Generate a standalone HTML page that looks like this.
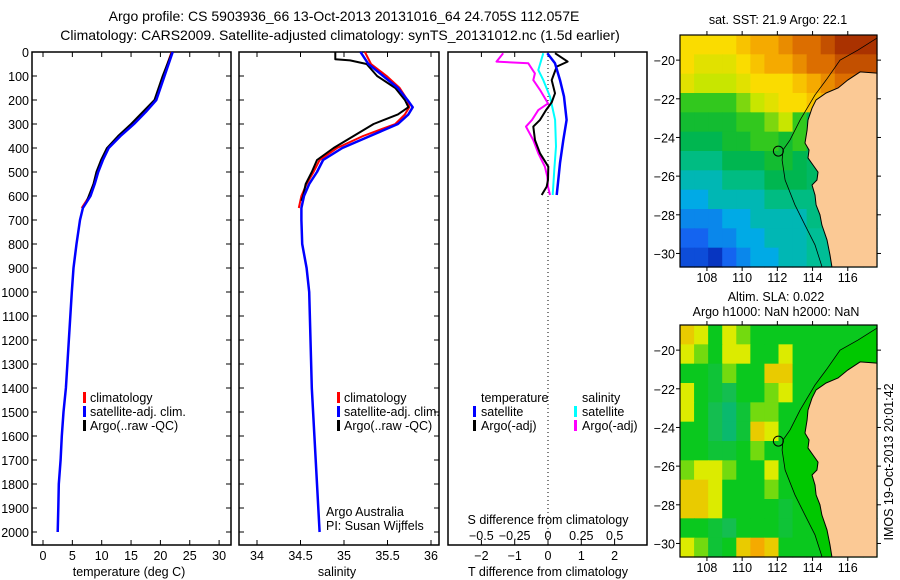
<!DOCTYPE html>
<html><head><meta charset="utf-8"><style>
html,body{margin:0;padding:0;background:#fff;}
svg{display:block;font-family:"Liberation Sans",sans-serif;}
text{font-size:12.5px;fill:#000;}
text.big{font-size:14px;}
</style></head><body>
<svg id="fig" width="900" height="580" viewBox="0 0 900 580">
<text class="big" x="344" y="21" text-anchor="middle">Argo profile: CS 5903936_66 13-Oct-2013 20131016_64 24.705S 112.057E</text>
<text class="big" x="340" y="40" text-anchor="middle">Climatology: CARS2009. Satellite-adjusted climatology: synTS_20131012.nc (1.5d earlier)</text>
<g id="g1"></g>
<g id="g2"></g>
<g id="g3"></g>
<g id="m1"></g>
<g id="m2"></g>
<text x="778" y="24" text-anchor="middle">sat. SST: 21.9 Argo: 22.1</text>
<text x="776" y="301" text-anchor="middle">Altim. SLA: 0.022</text>
<text x="776" y="316" text-anchor="middle">Argo h1000: NaN h2000: NaN</text>
<text transform="translate(893,462) rotate(-90)" text-anchor="middle">IMOS 19-Oct-2013 20:01:42</text>
</svg>
<script>
// ---------- data ----------
const depthTicks=[0,100,200,300,400,500,600,700,800,900,1000,1100,1200,1300,1400,1500,1600,1700,1800,1900,2000];
const tempTicks=[0,5,10,15,20,25,30];
const salTicks=[34,34.5,35,35.5,36];
const tdTicks=[-2,-1,0,1,2];
const sdTicks=[-0.5,-0.25,0,0.25,0.5];
const sdTickLabels=["-0.5","-0.25","0","0.25","0.5"];
const tDepthSat=[0,50,100,200,250,300,350,400,450,500,550,600,650,700,800,900,1000,1400,1500,1600,1700,1800,1900,2000];
const tempSat=[22.1,21.4,20.7,19.3,17.5,15.5,13.2,11.2,10.2,9.4,8.8,8.1,6.8,6.3,5.7,5.2,4.9,3.9,3.5,3.2,3.0,2.7,2.6,2.5];
const tDepthClim=[0,50,100,200,250,300,350,400,450,500,550,600,650];
const tempClim=[21.9,21.2,20.5,19.1,17.3,15.3,13.0,11.0,10.0,9.2,8.6,7.9,6.6];
const tDepthArgo=[0,50,100,200,250,300,350,400,450,500,550,600,620];
const tempArgo=[22.0,21.2,20.4,19.0,17.0,15.0,12.8,10.9,9.9,9.1,8.6,7.8,7.5];
const sDepthSat=[0,50,100,150,200,230,260,300,350,400,450,500,550,600,650,700,800,900,1000,1400,1600,1800,2000];
const salSat=[35.19,35.28,35.45,35.62,35.73,35.79,35.74,35.62,35.30,34.98,34.76,34.69,34.60,34.54,34.51,34.51,34.52,34.57,34.60,34.63,34.66,34.69,34.72];
const sDepthClim=[0,50,100,150,200,230,260,300,350,400,450,500,550,600,650];
const salClim=[35.24,35.31,35.49,35.64,35.73,35.75,35.70,35.59,35.22,34.92,34.72,34.65,34.57,34.51,34.48];
const sDepthArgo=[0,30,35,50,100,150,200,230,260,300,350,400,450,500,550,600,620];
const salArgo=[34.90,34.90,35.07,35.26,35.38,35.59,35.70,35.74,35.62,35.34,35.11,34.88,34.69,34.63,34.56,34.53,34.51];
const dDepthTSat=[5,47,117,186,283,367,463,533,596];
const dTSat=[-0.02,0.21,0.36,0.48,0.56,0.46,0.36,0.31,0.26];
const dDepthTArgo=[5,40,61,117,172,210,242,283,311,367,422,478,533,561,596];
const dTArgo=[0.21,0.59,0.26,0.11,0.21,0.11,-0.06,-0.24,-0.44,-0.39,-0.24,0.01,0,-0.04,-0.19];
const dDepthSSat=[5,75,117,186,283,394,490,596];
const dSSat=[-0.035,-0.073,-0.035,0.015,0.053,0.06,0.047,0.035];
const dDepthSArgo=[5,40,47,89,117,158,214,242,283,311,367,422,478,519,561,596];
const dSArgo=[-0.336,-0.386,-0.148,-0.098,-0.11,-0.06,0,-0.073,-0.12,-0.165,-0.11,-0.073,-0.023,-0.005,0,0.015];
const lonTicks=[108,110,112,114,116];
const latTicks=[-20,-22,-24,-26,-28,-30];
const sstGrid=[
[7,7,7,7,7.5,8,8,8.5,9,9,9.5,10,10,10],
[7,6.5,6.5,6.5,7,7.5,8,8,8.5,9,9,9.5,9.5,9.5],
[6.5,6,6,6,6.5,7,7,7,7.5,8,8.5,9,9,9],
[5,5,5,5,5.5,6,6.5,7,7,7.5,8,8,8,8],
[4.5,4.5,4.5,4.5,5,5,5.5,6,5,4,4,4,4,4],
[4,4,4,4.5,4.5,5,5,4.5,5,4,4,4,4,4],
[3.5,3.5,3.5,4,4,4,4.5,4.5,4,3.8,3.6,3.6,3.6,3.6],
[3,3,3,3.5,3.5,3.5,4,4,4,3.8,3.5,3.5,3.5,3.5],
[2.5,2.5,3,3,3,3,3.5,3.5,3.5,3.5,3.5,3.5,3.5,3.5],
[2,2,2,2.5,2.5,3,3,3,3,3.5,3.5,3.5,3.5,3.5],
[1.5,1.5,2,2,2.5,2.5,3,3,3,3.3,3.3,3.3,3.3,3.3],
[1,1,0.5,1.5,2,2.5,2.5,3,3,3.3,3.3,3.3,3.3,3.3]];
const slaGrid=[
[3.5,3,2,3,2.5,2,2,2,2,2,2,2,2,2],
[3,2.5,2,3,3,2,2,3,2,2,2,2,2,2],
[2,2,1.5,2.5,2,2,3.5,3.5,2,2,2,2,2,2],
[3,2,1.5,1,2,2,2.5,3,2,2,2,2,2,2],
[3,2,1,0.5,1.5,2.5,2.5,2,2,2,2,2,2,2],
[2,2,1,0.5,1.5,3.5,3,2,2,2,2,2,2,2],
[2,2,1.5,1.5,2,2.5,2,2,2,2,2,2,2,2],
[2.5,3,3,2.5,2,2,3,2,2,2,2,2,2,2],
[3.5,3.5,3,2,2,2,2.5,2,2,2,2,2,2,2],
[3.5,3.5,3,2,2,2,2,1.5,2,2,2,2,2,2],
[2,2,1.5,1,2,2,2,1.5,2,2,2,2,2,2],
[3,2.5,1.5,2,3.5,4,3.5,2,2,2,2,2,2,2]];
const coastLon=[117.66,116.7,116.0,115.45,114.77,114.2,113.97,113.74,113.69,113.57,113.8,113.74,114.03,114.31,114.25,113.97,114.14,114.2,114.42,114.53,114.82,114.99,115.1,117.66];
const coastLat=[-20.67,-20.61,-21.03,-21.44,-21.7,-22.06,-22.48,-23.1,-23.61,-24.29,-24.65,-25.06,-25.43,-25.79,-26.2,-26.46,-26.98,-27.49,-28.0,-28.53,-29.3,-30.08,-30.7,-30.7];
const shelfLon=[117.66,116.58,115.56,114.77,114.14,113.29,112.72,112.32,112.27,112.44,113.0,113.57,114.14,114.54];
const shelfLat=[-18.86,-19.48,-20.0,-21.03,-21.8,-23.1,-24.13,-24.65,-25.17,-26.2,-27.49,-28.53,-29.56,-30.7];
const argoLon=112.057, argoLat=-24.705;

// ---------- helpers ----------
const NS="http://www.w3.org/2000/svg";
function mk(p,t,a){const e=document.createElementNS(NS,t);for(const k in a)e.setAttribute(k,a[k]);p.appendChild(e);return e;}
const Y=d=>52+d*0.24;
const TOP=52,BOT=545;

function frame(g,x0,x1){const r=mk(g,'rect',{x:x0,y:TOP,width:x1-x0,height:BOT-TOP,fill:'none',stroke:'#000','stroke-width':1.5});

}
function yTicks(g,x0,x1,labels){depthTicks.forEach(d=>{const y=Y(d);
mk(g,'line',{x1:x0,y1:y,x2:x0+5,y2:y,stroke:'#000'});mk(g,'line',{x1:x1,y1:y,x2:x1-5,y2:y,stroke:'#000'});
if(labels){const t=mk(g,'text',{x:x0-3,y:y+5,'text-anchor':'end'});t.textContent=d;

}});}
function xTicks(g,vals,X,labs,ly){vals.forEach((v,i)=>{const x=X(v);
mk(g,'line',{x1:x,y1:BOT,x2:x,y2:BOT-5,stroke:'#000'});mk(g,'line',{x1:x,y1:TOP,x2:x,y2:TOP+5,stroke:'#000'});
if(labs){const t=mk(g,'text',{x:x,y:ly,'text-anchor':'middle'});t.textContent=labs[i];

}});}
function line(g,xs,ds,X,col,w,name){const pts=xs.map((v,i)=>X(v).toFixed(1)+','+Y(ds[i]).toFixed(1)).join(' ');
const p=mk(g,'polyline',{points:pts,fill:'none',stroke:col,'stroke-width':w,'stroke-linejoin':'round'});

}
function txt(g,x,y,s,name,anchor){const t=mk(g,'text',{x:x,y:y,'text-anchor':anchor||'start'});t.textContent=s;

return t;}
function legBar(g,x,y,col,name){const r=mk(g,'rect',{x:x,y:y-10,width:3,height:11,fill:col});

}

// ---------- panel 1: temperature ----------
const g1=document.getElementById('g1');
const XT=v=>43+v*5.87;
frame(g1,32,231);yTicks(g1,32,231,true);xTicks(g1,tempTicks,XT,tempTicks.map(String),560);
line(g1,tempClim,tDepthClim,XT,'#f00',2,'temp-climatology-line');
line(g1,tempArgo,tDepthArgo,XT,'#000',2,'temp-argo-line');
line(g1,tempSat,tDepthSat,XT,'#00f',2.5,'temp-satellite-line');
txt(g1,129,576,'temperature (deg C)','temperature-axis-title','middle');
[['#f00','climatology'],['#00f','satellite-adj. clim.'],['#000','Argo(..raw -QC)']].forEach((l,i)=>{legBar(g1,83,402+i*14,l[0],'legend-swatch');txt(g1,90,402+i*14,l[1],'legend-entry');});

// ---------- panel 2: salinity ----------
const g2=document.getElementById('g2');
const XS=v=>257+(v-34)*87;
frame(g2,239,439);yTicks(g2,239,439,false);xTicks(g2,salTicks,XS,salTicks.map(String),560);
line(g2,salClim,sDepthClim,XS,'#f00',2,'sal-climatology-line');
line(g2,salArgo,sDepthArgo,XS,'#000',2,'sal-argo-line');
line(g2,salSat,sDepthSat,XS,'#00f',2.5,'sal-satellite-line');
txt(g2,337,576,'salinity','salinity-axis-title','middle');
[['#f00','climatology'],['#00f','satellite-adj. clim.'],['#000','Argo(..raw -QC)']].forEach((l,i)=>{legBar(g2,337,402+i*14,l[0],'legend-swatch');txt(g2,344,402+i*14,l[1],'legend-entry');});
txt(g2,326,516,'Argo Australia','credit-argo-australia');
txt(g2,326,530,'PI: Susan Wijffels','credit-pi');

// ---------- panel 3: differences ----------
const g3=document.getElementById('g3');
const XD=v=>548+v*33.3, XSD=v=>548+v*133.3;
frame(g3,448,647);
tdTicks.forEach(v=>{const x=XD(v);mk(g3,'line',{x1:x,y1:BOT,x2:x,y2:BOT-5,stroke:'#000'});mk(g3,'line',{x1:x,y1:TOP,x2:x,y2:TOP+5,stroke:'#000'});
txt(g3,x,560,String(v).replace('-','\u2212'),'t-diff-tick-label','middle');});
sdTicks.forEach((v,i)=>{txt(g3,XSD(v),540,sdTickLabels[i].replace('-','\u2212'),'s-diff-tick-label','middle');});
const zl=mk(g3,'line',{x1:548,y1:TOP,x2:548,y2:BOT,stroke:'#000','stroke-dasharray':'1,3'});


line(g3,dSArgo,dDepthSArgo,XSD,'#f0f',2,'sal-diff-argo-line');
line(g3,dSSat,dDepthSSat,XSD,'#0ff',2,'sal-diff-satellite-line');
line(g3,dTArgo,dDepthTArgo,XD,'#000',2,'temp-diff-argo-line');
line(g3,dTSat,dDepthTSat,XD,'#00f',2.5,'temp-diff-satellite-line');
txt(g3,548,524,'S difference from climatology','s-diff-axis-title','middle');
txt(g3,548,576,'T difference from climatology','t-diff-axis-title','middle');
txt(g3,481,402,'temperature','legend-temperature-heading');txt(g3,582,402,'salinity','legend-salinity-heading');
legBar(g3,473,416,'#00f','legend-swatch');txt(g3,481,416,'satellite','legend-entry');
legBar(g3,473,430,'#000','legend-swatch');txt(g3,481,430,'Argo(-adj)','legend-entry');
legBar(g3,574,416,'#0ff','legend-swatch');txt(g3,582,416,'satellite','legend-entry');
legBar(g3,574,430,'#f0f','legend-swatch');txt(g3,582,430,'Argo(-adj)','legend-entry');

// ---------- maps ----------
function interp(stops,v){for(let i=0;i<stops.length-1;i++){const a=stops[i],b=stops[i+1];if(v<=b[0]){const t=Math.max(0,(v-a[0])/(b[0]-a[0]));
return 'rgb('+[1,2,3].map(k=>Math.round(a[k]+(b[k]-a[k])*t)).join(',')+')';}}const l=stops[stops.length-1];return 'rgb('+l[1]+','+l[2]+','+l[3]+')';}
const sstStops=[[0,0,30,170],[1.5,20,100,240],[2.5,0,170,230],[3.3,0,190,150],[4.2,0,180,60],[5,50,200,30],[6,200,230,0],[7,250,220,0],[8,245,170,0],[9,220,110,0],[10,170,50,0]];
const slaStops=[[0,0,180,140],[1,20,190,80],[2,10,200,30],[3,220,235,0],[4,245,170,0]];
function map(id,y0,grid,stops,shelfCol){
 const g=document.getElementById(id);const x0=680,x1=877,y1=y0+232;
 const LX=l=>x0+(l-106.47)*(x1-x0)/(117.66-106.47), LY=l=>y0+(-18.7-l)*(y1-y0)/12;
 const cw=(x1-x0)/grid[0].length, ch=(y1-y0)/grid.length;
 grid.forEach((row,r)=>row.forEach((v,c)=>{const e=mk(g,'rect',{x:(x0+c*cw).toFixed(2),y:(y0+r*ch).toFixed(2),width:(cw+0.6).toFixed(2),height:(ch+0.6).toFixed(2),fill:interp(stops,v)});
 
 }));
 if(shelfCol){
 const sp=shelfLon.map((l,i)=>LX(l)+','+LY(shelfLat[i])).concat([LX(117.66)+','+LY(-30.7),LX(117.66)+','+LY(-18.7)]).join(' ');
 const sh=mk(g,'polygon',{points:sp,fill:shelfCol});
 
 }
 const cp=coastLon.map((l,i)=>LX(l)+','+LY(coastLat[i])).join(' ');
 const land=mk(g,'polygon',{points:cp,fill:'#fbc995',stroke:'#000','stroke-width':1});
 
 
 const sl=mk(g,'polyline',{points:shelfLon.map((l,i)=>LX(l)+','+LY(shelfLat[i])).join(' '),fill:'none',stroke:'#000','stroke-width':0.8});
 
 
 const ci=mk(g,'circle',{cx:LX(argoLon),cy:LY(argoLat),r:5,fill:'none',stroke:'#000','stroke-width':1});
 
 
 const fr=mk(g,'rect',{x:x0,y:y0,width:x1-x0,height:y1-y0,fill:'none',stroke:'#000','stroke-width':1.2});
 
 
 lonTicks.forEach(l=>{const x=LX(l);mk(g,'line',{x1:x,y1:y0,x2:x,y2:y0-4,stroke:'#000'});mk(g,'line',{x1:x,y1:y1,x2:x,y2:y1+4,stroke:'#000'});txt(g,x,y1+15,String(l),'lon-tick-label','middle');});
 latTicks.forEach(l=>{const y=LY(l);mk(g,'line',{x1:x0,y1:y,x2:x0-4,y2:y,stroke:'#000'});mk(g,'line',{x1:x1,y1:y,x2:x1+4,y2:y,stroke:'#000'});txt(g,x0-5,y+5,String(l).replace('-','\u2212'),'lat-tick-label','end');});
}
map('m1',35,sstGrid,sstStops,null);
map('m2',325,slaGrid,slaStops,'#00c800');
</script>
</body></html>
